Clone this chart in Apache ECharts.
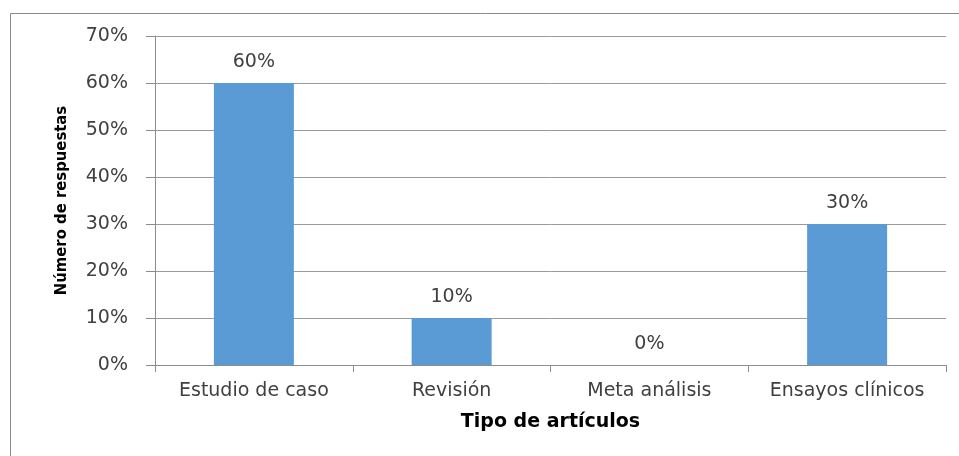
<!DOCTYPE html>
<html>
<head>
<meta charset="utf-8">
<script src="https://cdn.jsdelivr.net/npm/echarts@6/dist/echarts.min.js"></script>
<style>
  html, body { margin: 0; padding: 0; background: #ffffff; }
  #chart { width: 959px; height: 456px; }
</style>
</head>
<body>
<div id="chart"></div>
<script>
  // datos del gráfico
  var categorias = ['Estudio de caso', 'Revisión', 'Meta análisis', 'Ensayos clínicos'];
  var valores = [60, 10, 0, 30];
  var ticksY = [0, 10, 20, 30, 40, 50, 60, 70];

  var fuente = 'DejaVu Sans';
  var fuenteEstrecha = '"Liberation Sans Narrow", "DejaVu Sans Condensed", "DejaVu Sans"';
  var chart = echarts.init(document.getElementById('chart'));
  chart.setOption({
    animation: false,
    graphic: [{
      type: 'polyline',
      shape: { points: [[10.5, 460], [10.5, 13.5], [960, 13.5]] },
      style: { stroke: '#8a8a8a', lineWidth: 1, fill: null }
    }],
    grid: { left: 155, right: 13, top: 36, bottom: 91 },
    xAxis: {
      type: 'category',
      data: categorias,
      name: 'Tipo de artículos',
      nameLocation: 'middle',
      nameGap: 48,
      nameTextStyle: { fontFamily: fuente, fontWeight: 'bold', fontSize: 19, color: '#000' },
      axisLine: { lineStyle: { color: '#8c8c8c', width: 1 } },
      axisTick: { show: true, length: 7, lineStyle: { color: '#8c8c8c' } },
      axisLabel: { interval: 0, fontFamily: fuente, fontSize: 19, color: '#404040', margin: 17 }
    },
    yAxis: {
      type: 'value',
      min: 0,
      max: 70,
      interval: 10,
      name: 'Número de respuestas',
      nameLocation: 'middle',
      nameGap: 85,
      nameTextStyle: { fontFamily: fuenteEstrecha, fontWeight: 'bold', fontSize: 16.5, color: '#000' },
      axisLine: { show: true, lineStyle: { color: '#8c8c8c', width: 1 } },
      axisTick: { show: true, length: 9, lineStyle: { color: '#8c8c8c' } },
      axisLabel: {
        fontFamily: fuente, fontSize: 19, color: '#404040', margin: 27,
        formatter: function (v) { return ticksY.indexOf(v) >= 0 ? v + '%' : ''; }
      },
      splitLine: { lineStyle: { color: '#9a9a9a', width: 1 } }
    },
    series: [{
      type: 'bar',
      data: valores,
      barWidth: 80,
      itemStyle: { color: '#5b9bd5' },
      label: {
        show: true,
        position: 'top',
        distance: 11,
        fontFamily: fuente,
        fontSize: 19,
        color: '#404040',
        formatter: '{c}%'
      }
    }]
  });
</script>
</body>
</html>
